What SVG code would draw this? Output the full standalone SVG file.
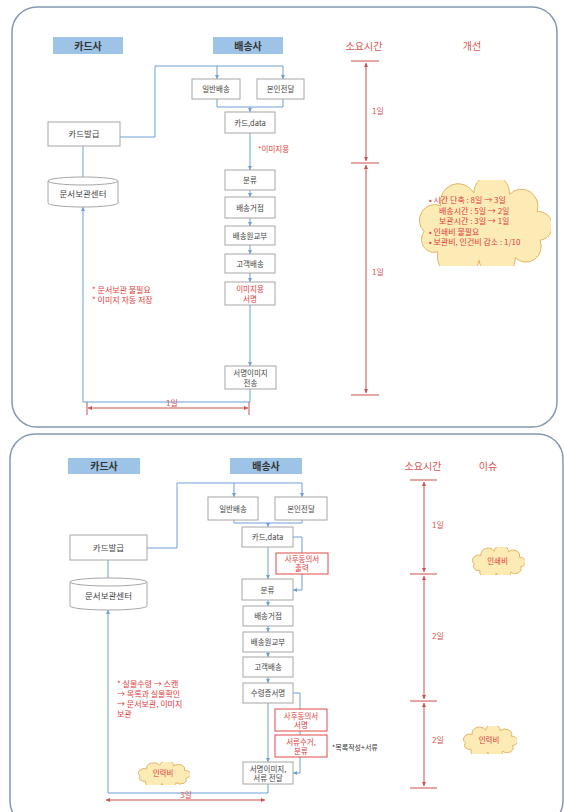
<svg xmlns="http://www.w3.org/2000/svg" xmlns:xlink="http://www.w3.org/1999/xlink" width="564" height="812" viewBox="0 0 564 812">
<style>
text{font-family:"Noto Sans CJK KR","Noto Sans",sans-serif;}
.panel{fill:#ffffff;stroke:#8497b0;stroke-width:1.5;}
.hdr{fill:#9dc3e6;stroke:none;}
.hdrt{font-size:10px;font-weight:bold;fill:#333;text-anchor:middle;}
.box{fill:#ffffff;stroke:#a6a6a6;stroke-width:1;}
.rbox{fill:#ffffff;stroke:#e04848;stroke-width:1;}
.bt{font-size:7.5px;fill:#444;text-anchor:middle;}
.rt{font-size:7.5px;fill:#e03c3c;text-anchor:middle;}
.red{font-size:8px;fill:#e03c3c;}
.col{font-size:10px;fill:#d9534f;text-anchor:middle;}
.day{font-size:8px;fill:#d9534f;text-anchor:middle;}
.conn{fill:none;stroke:#6f9fd8;stroke-width:1;}
.tl{fill:none;stroke:#c9504d;stroke-width:1;}
.cloud{fill:#fdebb6;stroke:#e3b466;stroke-width:1;}
</style>
<defs>
<marker id="ab" viewBox="0 0 6 6" refX="6" refY="3" markerWidth="4" markerHeight="4" orient="auto-start-reverse"><path d="M0,0 L6,3 L0,6 Z" fill="#6f9fd8"/></marker>
<marker id="ar" viewBox="0 0 6 6" refX="6" refY="3" markerWidth="4" markerHeight="4" orient="auto-start-reverse"><path d="M0,0 L6,3 L0,6 Z" fill="#c9504d"/></marker>
<symbol id="cl" viewBox="0 0 100 60" preserveAspectRatio="none">
<path class="cloud" vector-effect="non-scaling-stroke" d="M18,50 A9,9 0 0 1 8,36 A11,11 0 0 1 20,18 A13,13 0 0 1 44,9 A13,13 0 0 1 70,10 A12,12 0 0 1 90,22 A10,10 0 0 1 92,42 A11,11 0 0 1 74,54 A13,13 0 0 1 48,56 A12,12 0 0 1 18,50 Z"/>
</symbol>
</defs>

<rect class="panel" x="12" y="7" width="545" height="420" rx="25"/>
<rect class="panel" x="10" y="434" width="553" height="392" rx="25"/>

<g id="connectors">
<!-- top panel -->
<path class="conn" d="M120,137 H155 V66 H283"/>
<path class="conn" d="M217,66 V79" marker-end="url(#ab)"/>
<path class="conn" d="M283,66 V79" marker-end="url(#ab)"/>
<path class="conn" d="M217,99 V107 H283 V99"/>
<path class="conn" d="M250,107 V112" marker-end="url(#ab)"/>
<path class="conn" d="M250,133 V170" marker-end="url(#ab)"/>
<path class="conn" d="M250,190 V197" marker-end="url(#ab)"/>
<path class="conn" d="M250,218 V226" marker-end="url(#ab)"/>
<path class="conn" d="M250,245 V254" marker-end="url(#ab)"/>
<path class="conn" d="M250,273 V282" marker-end="url(#ab)"/>
<path class="conn" d="M250,305 V366" marker-end="url(#ab)"/>
<path class="conn" d="M250,389 V402 H83 V207" marker-end="url(#ab)"/>
<path class="conn" d="M83,146 V177"/>
<!-- bottom panel -->
<path class="conn" d="M147,548 H177 V483 H302"/>
<path class="conn" d="M234,483 V497" marker-end="url(#ab)"/>
<path class="conn" d="M302,483 V497" marker-end="url(#ab)"/>
<path class="conn" d="M234,520 V523 H302 V520"/>
<path class="conn" d="M268,523 V527" marker-end="url(#ab)"/>
<path class="conn" d="M268,547 V579" marker-end="url(#ab)"/>
<path class="conn" d="M293,537 H302 V590 H293" marker-end="url(#ab)"/>
<path class="conn" d="M268,600 V606" marker-end="url(#ab)"/>
<path class="conn" d="M268,626 V632" marker-end="url(#ab)"/>
<path class="conn" d="M268,652 V657" marker-end="url(#ab)"/>
<path class="conn" d="M268,677 V683" marker-end="url(#ab)"/>
<path class="conn" d="M268,703 V762" marker-end="url(#ab)"/>
<path class="conn" d="M293,693 H300 V773 H293" marker-end="url(#ab)"/>
<path class="conn" d="M268,784 V793 H108 V610" marker-end="url(#ab)"/>
<path class="conn" d="M108,560 V578"/>
</g>

<!-- top panel headers -->
<g id="top-header-card"><rect class="hdr" x="53" y="37" width="70" height="17"/><text class="hdrt" x="88" y="49.5">카드사</text></g>
<g id="top-header-delivery"><rect class="hdr" x="213" y="37" width="70" height="17"/><text class="hdrt" x="248" y="49.5">배송사</text></g>
<text class="col" x="364" y="50">소요시간</text>
<text class="col" x="472" y="50">개선</text>

<!-- top panel nodes -->
<g id="t-issue"><rect class="box" x="48" y="122" width="72" height="24"/><text class="bt" x="84" y="137" style="font-size:8.5px">카드발급</text></g>
<g id="t-archive">
<path class="box" d="M48,181 A35,4 0 0 1 118,181 V203 A35,4 0 0 1 48,203 Z"/>
<path class="box" d="M48,181 A35,4 0 0 0 118,181" fill="none"/>
<text class="bt" x="83" y="197" style="font-size:8.5px">문서보관센터</text>
</g>
<g id="t-normal"><rect class="box" x="192" y="79" width="48" height="20"/><text class="bt" x="216" y="92">일반배송</text></g>
<g id="t-personal"><rect class="box" x="257" y="79" width="47" height="20"/><text class="bt" x="280.5" y="92">본인전달</text></g>
<g id="t-carddata"><rect class="box" x="225" y="112" width="50" height="21"/><text class="bt" x="250" y="125.5">카드,data</text></g>
<text class="red" x="258" y="152" style="font-size:7.5px">*이미지용</text>
<g id="t-sort"><rect class="box" x="225" y="170" width="50" height="20"/><text class="bt" x="250" y="183">분류</text></g>
<g id="t-hub"><rect class="box" x="225" y="197" width="50" height="21"/><text class="bt" x="250" y="210.5">배송거점</text></g>
<g id="t-courier"><rect class="box" x="225" y="226" width="50" height="19"/><text class="bt" x="250" y="238.5">배송원교부</text></g>
<g id="t-customer"><rect class="box" x="225" y="254" width="50" height="19"/><text class="bt" x="250" y="266.5">고객배송</text></g>
<g id="t-imgsign"><rect class="box" x="225" y="282" width="50" height="23"/><text class="rt" x="250" y="292">이미지용<tspan x="250" dy="9.5">서명</tspan></text></g>
<g id="t-send"><rect class="box" x="225" y="366" width="51" height="23"/><text class="bt" x="250.5" y="376">서명이미지<tspan x="250.5" dy="9.5">전송</tspan></text></g>
<text class="red" x="92" y="293">* 문서보관 불필요<tspan x="92" dy="10">* 이미지 자동 저장</tspan></text>

<!-- top panel bottom dimension -->
<g id="t-dim">
<path class="tl" d="M87,402 V415 M249,402 V415"/>
<path class="tl" d="M88,408 H248" marker-start="url(#ar)" marker-end="url(#ar)"/>
<text class="day" x="172" y="406">1일</text>
</g>

<!-- top timeline -->
<g id="t-timeline">
<path class="tl" d="M351,61 H379 M351,163 H379 M351,395 H379"/>
<path class="tl" d="M366,63 V161" marker-start="url(#ar)" marker-end="url(#ar)"/>
<path class="tl" d="M366,165 V393" marker-start="url(#ar)" marker-end="url(#ar)"/>
<text class="day" x="378" y="114">1일</text>
<text class="day" x="378" y="275">1일</text>
</g>

<g id="t-cloud">
<use href="#cl" xlink:href="#cl" x="413" y="180" width="138" height="86"/>
<text class="red" x="429" y="203">• 시간 단축 : 8일 → 3일<tspan x="439" dy="10.5">배송시간 : 5일 → 2일</tspan><tspan x="439" dy="10.5">보관시간 : 3일 → 1일</tspan><tspan x="429" dy="10.5">• 인쇄비 불필요</tspan><tspan x="429" dy="10.5">• 보관비, 인건비 감소 : 1/10</tspan></text>
</g>

<!-- bottom panel headers -->
<g id="b-header-card"><rect class="hdr" x="68" y="458" width="72" height="16"/><text class="hdrt" x="104" y="470">카드사</text></g>
<g id="b-header-delivery"><rect class="hdr" x="230" y="458" width="72" height="16"/><text class="hdrt" x="266" y="470">배송사</text></g>
<text class="col" x="423" y="470">소요시간</text>
<text class="col" x="488" y="470">이슈</text>

<!-- bottom panel nodes -->
<g id="b-issue"><rect class="box" x="70" y="535" width="77" height="25"/><text class="bt" x="108.5" y="550.5" style="font-size:8.5px">카드발급</text></g>
<g id="b-archive">
<path class="box" d="M70,582 A38.5,4 0 0 1 147,582 V606 A38.5,4 0 0 1 70,606 Z"/>
<path class="box" d="M70,582 A38.5,4 0 0 0 147,582" fill="none"/>
<text class="bt" x="108.5" y="598.5" style="font-size:8.5px">문서보관센터</text>
</g>
<g id="b-normal"><rect class="box" x="208" y="497" width="50" height="23"/><text class="bt" x="233" y="511.5">일반배송</text></g>
<g id="b-personal"><rect class="box" x="275" y="497" width="52" height="23"/><text class="bt" x="301" y="511.5">본인전달</text></g>
<g id="b-carddata"><rect class="box" x="242" y="527" width="51" height="20"/><text class="bt" x="267.5" y="540">카드,data</text></g>
<g id="b-print"><rect class="rbox" x="276" y="553" width="52" height="21"/><text class="rt" x="302" y="561.5">사후동의서<tspan x="302" dy="9.5">출력</tspan></text></g>
<g id="b-sort"><rect class="box" x="242" y="579" width="51" height="21"/><text class="bt" x="267.5" y="592.5">분류</text></g>
<g id="b-hub"><rect class="box" x="243" y="606" width="50" height="20"/><text class="bt" x="268" y="619">배송거점</text></g>
<g id="b-courier"><rect class="box" x="243" y="632" width="50" height="20"/><text class="bt" x="268" y="645">배송원교부</text></g>
<g id="b-customer"><rect class="box" x="243" y="657" width="50" height="20"/><text class="bt" x="268" y="670">고객배송</text></g>
<g id="b-receipt"><rect class="box" x="243" y="683" width="50" height="20"/><text class="bt" x="268" y="696">수령증서명</text></g>
<g id="b-consent"><rect class="rbox" x="275" y="709" width="52" height="22"/><text class="rt" x="301" y="718.5">사후동의서<tspan x="301" dy="9.5">서명</tspan></text></g>
<g id="b-collect"><rect class="rbox" x="275" y="735" width="52" height="22"/><text class="rt" x="301" y="744.5">서류수거,<tspan x="301" dy="9.5">분류</tspan></text></g>
<g id="b-send"><rect class="box" x="243" y="762" width="50" height="22"/><text class="bt" x="268" y="771.5">서명이미지,<tspan x="268" dy="9.5">서류 전달</tspan></text></g>
<text x="332" y="750" style="font-size:7px;fill:#333">*목록작성+서류</text>

<text class="red" x="117" y="687">* 실물수령 → 스캔<tspan x="117" dy="10">→ 목록과 실물확인</tspan><tspan x="117" dy="10">→ 문서보관, 이미지</tspan><tspan x="117" dy="10">보관</tspan></text>

<g id="b-cloud-labor-left"><use href="#cl" xlink:href="#cl" x="136" y="762" width="54" height="23"/><text class="rt" x="163" y="776">인력비</text></g>

<g id="b-dim">
<path class="tl" d="M106,800 H265" marker-start="url(#ar)" marker-end="url(#ar)"/>
<text class="day" x="186" y="798">3일</text>
</g>

<g id="b-timeline">
<path class="tl" d="M410,480 H437 M410,574 H437 M410,701 H437 M410,788 H437"/>
<path class="tl" d="M424,482 V572" marker-start="url(#ar)" marker-end="url(#ar)"/>
<path class="tl" d="M424,576 V699" marker-start="url(#ar)" marker-end="url(#ar)"/>
<path class="tl" d="M424,703 V786" marker-start="url(#ar)" marker-end="url(#ar)"/>
<text class="day" x="438" y="528">1일</text>
<text class="day" x="438" y="639">2일</text>
<text class="day" x="438" y="743">2일</text>
</g>

<g id="b-cloud-print"><use href="#cl" xlink:href="#cl" x="470" y="547" width="55" height="28"/><text class="rt" x="497.5" y="564">인쇄비</text></g>
<g id="b-cloud-labor"><use href="#cl" xlink:href="#cl" x="461" y="726" width="56" height="28"/><text class="rt" x="489" y="743">인력비</text></g>
</svg>
